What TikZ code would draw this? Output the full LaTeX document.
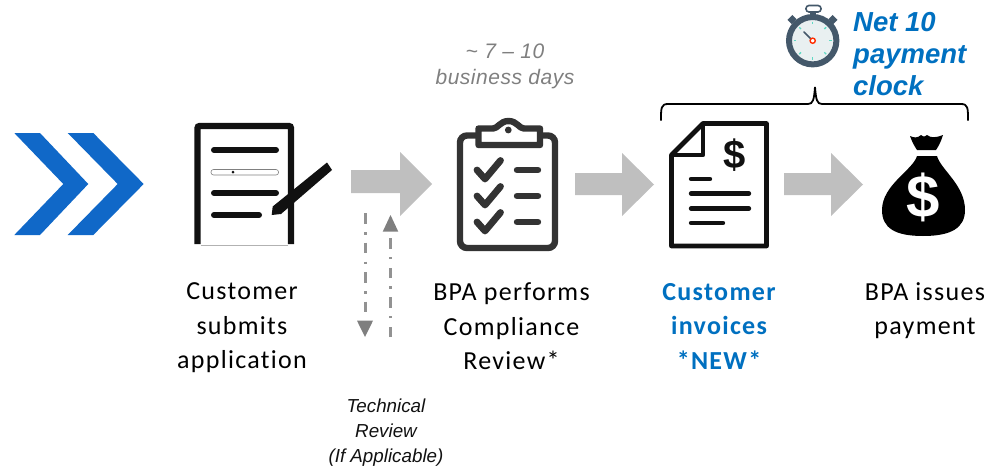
\documentclass[tikz,border=0pt]{standalone}
\usepackage{fontspec}
\usetikzlibrary{calc}
\setmainfont[LetterSpace=5,Ligatures=NoCommon]{Carlito}
\newfontfamily\arialf{Liberation Sans}
\newfontfamily\arialw[LetterSpace=2.5]{Liberation Sans}
\definecolor{bluetxt}{HTML}{0070C0}
\definecolor{chev}{HTML}{1068C8}
\definecolor{arrowgray}{HTML}{BFBFBF}
\definecolor{dashgray}{HTML}{7F7F7F}
\definecolor{ink}{HTML}{111111}
\definecolor{boardc}{HTML}{333333}
\definecolor{slate}{HTML}{44586A}
\definecolor{tealc}{HTML}{5FD9C4}
\definecolor{face}{HTML}{E9F0F1}
\tikzset{
  x=1pt,y=-1pt,
  lab/.style={font=\fontsize{26}{34.5}\selectfont,align=center,text=black,inner sep=0},
  labb/.style={lab,font=\fontsize{26}{34.5}\selectfont\bfseries,text=bluetxt},
  gnote/.style={font=\arialw\itshape\fontsize{21}{26}\selectfont,align=center,text=dashgray,inner sep=0},
  bnote/.style={font=\arialf\itshape\fontsize{18.8}{25}\selectfont,align=center,text=ink,inner sep=0},
  clocktxt/.style={font=\arialf\bfseries\itshape\fontsize{27.5}{32}\selectfont,align=left,text=bluetxt,inner sep=0},
  bline/.style={line width=6pt,line cap=round,draw=ink},
  cline/.style={line width=6.4pt,line cap=round,draw=boardc},
  iline/.style={line width=4.4pt,line cap=round,draw=ink},
  checkm/.style={line width=6.8pt,line cap=round,line join=round,draw=boardc},
  flow/.style={fill=arrowgray,draw=none},
  dd/.style={draw=dashgray!85,line width=3pt,dash pattern=on 10.5pt off 8.5pt on 2.5pt off 8pt},
  tickm/.style={draw=tealc,line width=1.3pt},
}
\begin{document}
\begin{tikzpicture}
\useasboundingbox (0,0) rectangle (1005,469);
% chevrons
\fill[chev] (14.3,133) -- (40,133) -- (88.3,184) -- (40,235) -- (14.3,235) -- (63.3,184) -- cycle;
\fill[chev] (67.7,133) -- (93.3,133) -- (143.7,184) -- (93.3,235) -- (67.7,235) -- (117.7,184) -- cycle;
% document icon
\draw[line width=6.2pt,draw=ink,rounded corners=2pt] (197.5,244) -- (197.5,126) -- (291,126) -- (291,244);
\draw[gray!60,line width=.8pt] (200.5,245) -- (288,245);
\draw[bline] (214,150) -- (276,150);
\draw[gray,line width=.6pt,rounded corners=2.5pt] (211,169.5) rectangle (278.5,175);
\fill[ink] (233,172) circle (1.5);
\draw[bline] (214,193) -- (276,193);
\draw[bline] (214,215) -- (259,215);
\fill[ink] (271.7,215) -- (272.7,206.5) -- (327,162.5) -- (332,170) -- (281,214) -- cycle;
% clipboard icon
\draw[line width=6.4pt,draw=boardc,rounded corners=7pt] (478,135.5) -- (460,135.5) -- (460,248) -- (555,248) -- (555,135.5) -- (540,135.5);
\draw[line width=6.4pt,draw=boardc,line join=round,fill=white] (478.5,145) -- (478.5,128.5) -- (493,128.5) .. controls (498,128.5) and (500,121) .. (508.5,121) .. controls (517,121) and (519,128.5) .. (524,128.5) -- (540,128.5) -- (540,145) -- cycle;
\fill[boardc] (508.3,130) circle (3.4);
\foreach \yy in {170,196,222}{
  \draw[checkm] (477,\yy) -- (485,\yy+9) -- (500.5,\yy-9.5);
  \draw[cline] (517,\yy) -- (538,\yy);
}
% invoice icon
\draw[line width=4.8pt,draw=ink,line join=round] (671.5,155) -- (703,123.5) -- (766.5,123.5) -- (766.5,246) -- (671.5,246) -- cycle;
\draw[line width=4.8pt,draw=ink,line join=round] (703,123.5) -- (703,155) -- (671.5,155);
\node[inner sep=0,font=\arialf\bfseries\fontsize{40}{40}\selectfont,text=ink] (dollar1) at (735,155) {\$};
\draw[iline] (691,179) -- (710,179);
\draw[iline] (691,193.5) -- (749,193.5);
\draw[iline] (691,208.5) -- (749,208.5);
\draw[iline] (691,223) -- (723,223);
% money bag
\fill[black] (917,156) .. controls (913,170) and (882,185) .. (882,210) .. controls (882,228) and (895,236) .. (923,236) .. controls (951,236) and (965,228) .. (965,210) .. controls (965,185) and (941,170) .. (937,156) -- cycle;
\fill[black] (910,136) .. controls (914,138) and (918,138) .. (921,135) .. controls (924,137) and (924,137) .. (927,135) .. controls (931,138) and (935,138) .. (943,135) .. controls (941,142) and (938,147) .. (936,150) -- (917,150) .. controls (915,147) and (912,142) .. (910,136) -- cycle;
\node[inner sep=0,font=\arialf\bfseries\fontsize{60}{60}\selectfont,text=white] (dollar2) at (923,197) {\$};
% stopwatch
\draw[slate,line width=1.6pt,rounded corners=3pt] (806,5.5) rectangle (821,12);
\fill[slate] (810,11) rectangle (816,16);
\fill[slate,rotate around={-45:(792,19.5)}] (789,16) rectangle (795,23);
\fill[slate,rotate around={45:(833,19.5)}] (830,16) rectangle (836,23);
\filldraw[fill=face,draw=slate,line width=6pt] (812.7,40.7) circle (23.7);
\foreach \a in {0,45,...,315}{
  \draw[tickm] ($(812.7,40.7)+(\a:19)$) -- ($(812.7,40.7)+(\a:16.5)$);
}
\draw[slate,line width=1.5pt,line cap=round] (812.7,40.7) -- (804,32);
\draw[draw=red!65!orange,line width=1.4pt,fill=white] (812.7,40.7) circle (2.6);
% bracket
\draw[black,line width=1.8pt] (661,120.5) .. controls (661,108) and (661,104) .. (668,104) -- (808,104) .. controls (813,104) and (814,100) .. (815,87) .. controls (816,100) and (817,104) .. (822,104) -- (961,104) .. controls (968,104) and (968,108) .. (968,120.5);
% flow arrows
\fill[flow] (351,170) -- (400,170) -- (400,152) -- (432,184) -- (400,216) -- (400,193) -- (351,193) -- cycle;
\fill[flow] (575,173) -- (622,173) -- (622,153) -- (654,184.5) -- (622,216) -- (622,195) -- (575,195) -- cycle;
\fill[flow] (784,173) -- (831,173) -- (831,153) -- (863,184.5) -- (831,216) -- (831,195) -- (784,195) -- cycle;
% dash-dot arrows
\coordinate (d1a) at (365,213);
\coordinate (d1b) at (365,320);
\coordinate (d2a) at (390.5,337);
\coordinate (d2b) at (390.5,232);
\draw[dd] (d1a) -- (d1b);
\draw[dd] (d2a) -- (d2b);
\fill[dashgray] (357,320.7) -- (373,320.7) -- (365,337) -- cycle;
\fill[dashgray] (382.7,231.7) -- (398.3,231.7) -- (390.5,215) -- cycle;
% labels
\node[lab] (t1) at (242,328) {Customer\\submits\\application};
\node[lab] (t2) at (511.5,326.5) {BPA performs\\Compliance\\Review*};
\node[labb] (t3) at (719,326) {Customer\\invoices\\*NEW*};
\node[lab] (t4) at (925,310.5) {BPA issues\\payment};
\node[gnote] (t5) at (505,66) {\textasciitilde{} 7 – 10\\business days};
\node[bnote] (t6) at (386,433) {Technical\\Review\\(If Applicable)};
\node[clocktxt,anchor=west] (t7) at (853,54) {Net 10\\payment\\clock};
\end{tikzpicture}
\end{document}
